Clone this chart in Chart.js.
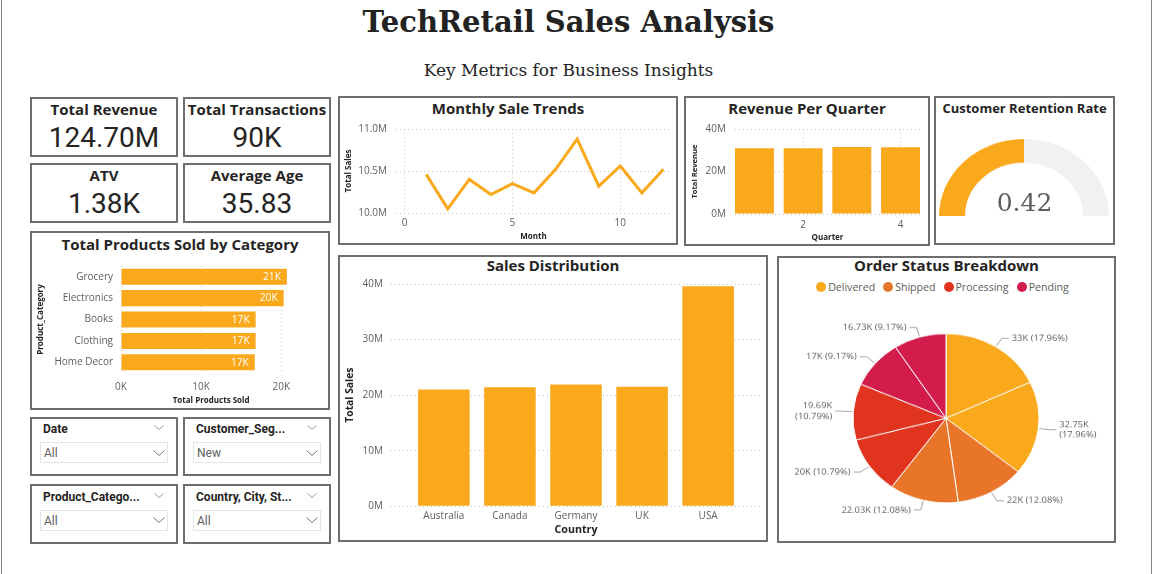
<!DOCTYPE html>
<html>
<head>
<meta charset="utf-8">
<script src="https://cdn.jsdelivr.net/npm/chart.js@4.4.1/dist/chart.umd.min.js"></script>
<style>
  html, body { margin: 0; padding: 0; background: #fff; }
  body { width: 1154px; height: 574px; position: relative; overflow: hidden; font-family: "Open Sans", sans-serif; }
  .vline { position: absolute; top: 0; width: 1px; height: 574px; background: #858585; }
  .panel { position: absolute; box-sizing: border-box; border: 2px solid #6e6e6e; background: #fff; }
  .txt { position: absolute; white-space: nowrap; }
  .cbox { position: absolute; }
  .cbox canvas { display: block; }
  #title { left: 0; width: 1137px; top: 8px; text-align: center; font: bold 29px/29px "DejaVu Serif", serif; color: #222; }
  #subtitle { left: 0; width: 1137px; top: 62px; text-align: center; font: 17px/17px "DejaVu Serif", serif; color: #222; }
  .ptitle { text-align: center; font-weight: 700; font-size: 15px; line-height: 15px; color: #252423; }
  .kpiLabel { text-align: center; font-weight: 700; font-size: 15px; line-height: 15px; color: #252423; }
  .kpiValue { text-align: center; font-family: Roboto, sans-serif; font-size: 28px; line-height: 28px; color: #252423; }
  .slName { font-family: Roboto, sans-serif; font-weight: 700; font-size: 12px; line-height: 12px; color: #252423; }
  .slVal { font-family: Roboto, sans-serif; font-size: 12px; line-height: 12px; color: #605E5C; }
  .slBox { position: absolute; box-sizing: border-box; border: 1px solid #E4E4E4; }
  .legend { position: absolute; display: flex; align-items: center; font-size: 10.6px; line-height: 12px; color: #605E5C; }
  .legend .it { display: flex; align-items: center; margin-right: 8px; }
  .legend .dot { width: 10px; height: 10px; border-radius: 50%; margin-right: 2px; }
  #gaugeVal { font: 25px/25px "DejaVu Serif", serif; color: #605E5C; text-align: center; }
</style>
</head>
<body>
<div class="vline" style="left:1px"></div>
<div class="vline" style="left:1151px"></div>

<div id="title" class="txt">TechRetail Sales Analysis</div>
<div id="subtitle" class="txt">Key Metrics for Business Insights</div>

<!-- chart panels -->
<div class="panel" style="left:338px;top:96px;width:340px;height:149px"></div>
<div class="panel" style="left:684px;top:96px;width:246px;height:150px"></div>
<div class="panel" style="left:934px;top:96px;width:181px;height:149px"></div>
<div class="panel" style="left:30px;top:231px;width:300px;height:179px"></div>
<div class="panel" style="left:338px;top:255px;width:430px;height:287px"></div>
<div class="panel" style="left:777px;top:256px;width:339px;height:287px"></div>

<div class="txt ptitle" style="left:338px;width:340px;top:101px">Monthly Sale Trends</div>
<div class="txt ptitle" style="left:684px;width:246px;top:101px">Revenue Per Quarter</div>
<div class="txt ptitle" style="left:934px;width:181px;top:101.5px;font-size:13px;line-height:13px">Customer Retention Rate</div>
<div class="txt ptitle" style="left:30px;width:300px;top:237px">Total Products Sold by Category</div>
<div class="txt ptitle" style="left:338px;width:430px;top:258px">Sales Distribution</div>
<div class="txt ptitle" style="left:777px;width:339px;top:258px">Order Status Breakdown</div>

<div class="cbox" style="left:340px;top:114px;width:335px;height:129px"><canvas id="cMonthly"></canvas></div>
<div class="cbox" style="left:686px;top:114px;width:241px;height:131px"><canvas id="cQuarter"></canvas></div>
<div class="cbox" style="left:939px;top:139.3px;width:170px;height:85px;transform:scaleY(0.91);transform-origin:0 0"><canvas id="cGauge"></canvas></div>
<div id="gaugeVal" class="txt" style="left:934px;width:181px;top:190px">0.42</div>
<div class="cbox" style="left:32px;top:252px;width:296px;height:156px"><canvas id="cProducts"></canvas></div>
<div class="cbox" style="left:340px;top:270px;width:425px;height:270px"><canvas id="cCountry"></canvas></div>
<div class="cbox" style="left:779.3px;top:308.8px;width:334px;height:240px;transform:scaleY(0.91);transform-origin:0 0"><canvas id="cOrders"></canvas></div>
<div id="orderLegend" class="legend" style="left:777px;width:339px;top:281px;justify-content:center"></div>

<div id="cards"></div>

<script>
// ---------------- data ----------------
const kpiLabels = ['Total Revenue', 'Total Transactions', 'ATV', 'Average Age'];
const kpiValues = ['124.70M', '90K', '1.38K', '35.83'];

const months = [1, 2, 3, 4, 5, 6, 7, 8, 9, 10, 11, 12];
const monthlySales = [10.46, 10.05, 10.40, 10.22, 10.35, 10.24, 10.52, 10.88, 10.32, 10.56, 10.24, 10.52]; // M
const monthTicks = [0, 5, 10];

const quarters = [1, 2, 3, 4];
const quarterRevenue = [30.9, 30.9, 31.5, 31.4]; // M
const quarterTicks = [2, 4];

const retentionRate = 0.42;
const retentionMax = 0.84;

const productCategories = ['Grocery', 'Electronics', 'Books', 'Clothing', 'Home Decor'];
const productsSold = [20.7, 20.3, 16.8, 16.8, 16.7]; // K

const countries = ['Australia', 'Canada', 'Germany', 'UK', 'USA'];
const countrySales = [21.0, 21.4, 21.9, 21.5, 39.6]; // M

const orderStatuses = ['Delivered', 'Shipped', 'Processing', 'Pending'];
const orderSliceStatus = ['Delivered', 'Delivered', 'Shipped', 'Shipped', 'Processing', 'Processing', 'Pending', 'Pending'];
const orderSliceValues = [33, 32.75, 22, 22.03, 20, 19.69, 17, 16.73]; // K
const orderSlicePct = ['17.96%', '17.96%', '12.08%', '12.08%', '10.79%', '10.79%', '9.17%', '9.17%'];

const slicerNames = ['Date', 'Customer_Seg...', 'Product_Catego...', 'Country, City, St...'];
const slicerValues = ['All', 'New', 'All', 'All'];

// ---------------- styles ----------------
const ORANGE = '#FAA91D';
const statusColors = { Delivered: '#FAA91D', Shipped: '#E8752A', Processing: '#E0341F', Pending: '#D11C4C' };
const GRID = '#C8C6C4';
const TICK = '#605E5C';
const AXT = '#252423';
const FAM = '"Open Sans", sans-serif';
const tickFont = { family: FAM, size: 10 };
const axTitleFont = s => ({ family: FAM, size: s, weight: 'bold' });

Chart.defaults.animation = false;
Chart.defaults.responsive = true;
Chart.defaults.maintainAspectRatio = false;
Chart.defaults.plugins.legend.display = false;
Chart.defaults.plugins.tooltip.enabled = false;
Chart.defaults.font.family = FAM;

const dotted = { display: false, dash: [1, 3] };
const gridOn = { color: GRID, lineWidth: 1, drawTicks: false };
const gridOff = { display: false, drawTicks: false, offset: false };

// ---------------- KPI cards & slicers (HTML) ----------------
const cards = document.getElementById('cards');
const kpiPos = [[30, 97], [183, 97], [30, 163], [183, 163]];
kpiLabels.forEach((lab, i) => {
  const [l, t] = kpiPos[i];
  cards.insertAdjacentHTML('beforeend',
    `<div class="panel" style="left:${l}px;top:${t}px;width:148px;height:60px"></div>
     <div class="txt kpiLabel" style="left:${l}px;width:148px;top:${t + 4.5}px">${lab}</div>
     <div class="txt kpiValue" style="left:${l}px;width:148px;top:${t + 26.5}px">${kpiValues[i]}</div>`);
});
const chev = (c, w, h) => `<svg width="${w}" height="${h}" viewBox="0 0 ${w} ${h}" style="position:absolute;display:block"><polyline points="0.5,0.5 ${w / 2},${h - 0.5} ${w - 0.5},0.5" fill="none" stroke="${c}" stroke-width="1"/></svg>`;
const slPos = [[30, 416.5], [183, 416.5], [30, 484], [183, 484]];
slicerNames.forEach((nm, i) => {
  const [l, t] = slPos[i];
  cards.insertAdjacentHTML('beforeend',
    `<div class="panel" style="left:${l}px;top:${t}px;width:148px;height:59.5px"></div>
     <div class="txt slName" style="left:${l + 13}px;top:${t + 6.5}px">${nm}</div>
     <div class="txt" style="left:${l + 124}px;top:${t + 8.5}px">${chev('#9a9a9a', 10, 5)}</div>
     <div class="slBox" style="left:${l + 9.5}px;top:${t + 25.5}px;width:128px;height:21px"></div>
     <div class="txt slVal" style="left:${l + 14}px;top:${t + 30.5}px">${slicerValues[i]}</div>
     <div class="txt" style="left:${l + 123}px;top:${t + 33}px">${chev('#777', 12, 6)}</div>`);
});

// legend for order status
const lg = document.getElementById('orderLegend');
orderStatuses.forEach(s => {
  lg.insertAdjacentHTML('beforeend', `<div class="it"><div class="dot" style="background:${statusColors[s]}"></div>${s}</div>`);
});

// ---------------- Monthly Sale Trends ----------------
new Chart(document.getElementById('cMonthly'), {
  type: 'line',
  data: { datasets: [{ data: months.map((m, i) => ({ x: m, y: monthlySales[i] })), borderColor: ORANGE, borderWidth: 3, pointRadius: 0, tension: 0, fill: false }] },
  options: {
    layout: { padding: { top: 10, right: 4, left: 0, bottom: 0 } },
    scales: {
      x: {
        type: 'linear', min: -0.4, max: 12.35,
        afterBuildTicks: s => { s.ticks = monthTicks.map(v => ({ value: v })); },
        afterFit: s => { s.height = 30; },
        ticks: { font: tickFont, color: TICK, padding: 4, maxRotation: 0 },
        grid: gridOn, border: dotted,
        title: { display: true, text: 'Month', font: axTitleFont(8), color: AXT, padding: { top: 0, bottom: 1 } }
      },
      y: {
        min: 10, max: 11,
        afterFit: s => { s.width = 56; },
        ticks: { stepSize: 0.5, font: tickFont, color: TICK, padding: 9, callback: v => v.toFixed(1) + 'M' },
        grid: gridOn, border: dotted,
        title: { display: true, text: 'Total Sales', font: axTitleFont(8), color: AXT, padding: { top: 4, bottom: 0 } }
      }
    }
  }
});

// ---------------- Revenue Per Quarter ----------------
new Chart(document.getElementById('cQuarter'), {
  type: 'bar',
  data: { datasets: [{ data: quarters.map((q, i) => ({ x: q, y: quarterRevenue[i] })), backgroundColor: ORANGE, barPercentage: 0.8, categoryPercentage: 1 }] },
  options: {
    layout: { padding: { top: 10, right: 7, left: 0, bottom: 0 } },
    scales: {
      x: {
        type: 'linear', offset: false, min: 0.6, max: 4.4,
        afterBuildTicks: s => { s.ticks = quarterTicks.map(v => ({ value: v })); },
        afterFit: s => { s.height = 31; },
        ticks: { font: tickFont, color: TICK, padding: 5, maxRotation: 0 },
        grid: Object.assign({ offset: false }, gridOn), border: dotted,
        title: { display: true, text: 'Quarter', font: axTitleFont(8), color: AXT, padding: { top: 0, bottom: 2.5 } }
      },
      y: {
        min: 0, max: 40,
        afterFit: s => { s.width = 49; },
        ticks: { stepSize: 20, font: tickFont, color: TICK, padding: 9, callback: v => v + 'M' },
        grid: gridOn, border: dotted,
        title: { display: true, text: 'Total Revenue', font: axTitleFont(7.6), color: AXT, padding: { top: 4, bottom: 0 } }
      }
    }
  }
});

// ---------------- Customer Retention gauge ----------------
new Chart(document.getElementById('cGauge'), {
  type: 'doughnut',
  data: { datasets: [{ data: [retentionRate, retentionMax - retentionRate], backgroundColor: [ORANGE, '#F1F1F1'], borderWidth: 0 }] },
  options: { circumference: 180, rotation: -90, cutout: '69.4%', layout: { padding: 0 } }
});

// ---------------- Total Products Sold by Category ----------------
const barValueLabels = {
  id: 'barValueLabels',
  afterDatasetsDraw(chart) {
    const ctx = chart.ctx;
    const meta = chart.getDatasetMeta(0);
    ctx.save();
    ctx.font = '10.2px ' + FAM;
    ctx.fillStyle = '#ffffff';
    ctx.textAlign = 'right';
    ctx.textBaseline = 'middle';
    meta.data.forEach((bar, i) => {
      ctx.fillText(Math.round(productsSold[i]) + 'K', bar.x - 6, bar.y + 0.5);
    });
    ctx.restore();
  }
};
new Chart(document.getElementById('cProducts'), {
  type: 'bar',
  data: { labels: productCategories, datasets: [{ data: productsSold, backgroundColor: ORANGE, barPercentage: 0.75, categoryPercentage: 1 }] },
  options: {
    indexAxis: 'y',
    layout: { padding: { top: 12.5, right: 26.7, left: 0, bottom: 0 } },
    scales: {
      x: {
        min: 0, max: 22.5,
        afterFit: s => { s.height = 35; },
        ticks: { stepSize: 10, includeBounds: false, font: tickFont, color: TICK, padding: 8, callback: v => v + 'K' },
        grid: gridOn, border: dotted,
        title: { display: true, text: 'Total Products Sold', font: axTitleFont(8), color: AXT, padding: { top: 0, bottom: 2 } }
      },
      y: {
        afterFit: s => { s.width = 89; },
        ticks: { font: tickFont, color: TICK, padding: 8 },
        grid: { display: false, drawTicks: false }, border: { display: false },
        title: { display: true, text: 'Product_Category', font: axTitleFont(8), color: AXT, padding: { top: 4, bottom: 0 } }
      }
    }
  },
  plugins: [barValueLabels]
});

// ---------------- Sales Distribution ----------------
new Chart(document.getElementById('cCountry'), {
  type: 'bar',
  data: { datasets: [{ data: countries.map((c, i) => ({ x: i, y: countrySales[i] })), backgroundColor: ORANGE, barPercentage: 0.78, categoryPercentage: 1 }] },
  options: {
    layout: { padding: { top: 12, right: 4, left: 0, bottom: 0 } },
    scales: {
      x: {
        type: 'linear', offset: false, min: -0.8, max: 4.8,
        afterBuildTicks: s => { s.ticks = countries.map((c, i) => ({ value: i })); },
        afterFit: s => { s.height = 33.7; },
        ticks: { font: tickFont, color: TICK, padding: 4, maxRotation: 0, autoSkip: false, callback: v => countries[v] },
        grid: gridOff, border: { display: false },
        title: { display: true, text: 'Country', font: axTitleFont(10.7), color: AXT, padding: { top: 0, bottom: 3.5 } }
      },
      y: {
        min: 0, max: 40,
        afterFit: s => { s.width = 51; },
        ticks: { stepSize: 10, font: tickFont, color: TICK, padding: 8, callback: v => v + 'M' },
        grid: gridOn, border: dotted,
        title: { display: true, text: 'Total Sales', font: axTitleFont(10.3), color: AXT, padding: { top: 4, bottom: 0 } }
      }
    }
  }
});

// ---------------- Order Status Breakdown ----------------
const fmtK = v => (Number.isInteger(v) ? String(v) : v.toFixed(2)) + 'K';
const pieLabels = {
  id: 'pieLabels',
  afterDatasetsDraw(chart) {
    const ctx = chart.ctx;
    const meta = chart.getDatasetMeta(0);
    ctx.save();
    ctx.font = '9.4px ' + FAM;
    ctx.fillStyle = '#605E5C';
    ctx.strokeStyle = '#A19F9D';
    ctx.lineWidth = 1;
    ctx.textBaseline = 'middle';
    meta.data.forEach((arc, i) => {
      const p = arc.getProps(['x', 'y', 'startAngle', 'endAngle', 'outerRadius'], true);
      const mid = (p.startAngle + p.endAngle) / 2;
      const c = Math.cos(mid), s = Math.sin(mid);
      const right = c >= 0;
      const x0 = p.x + c * (p.outerRadius + 1), y0 = p.y + s * (p.outerRadius + 1);
      const x1 = p.x + c * (p.outerRadius + 11), y1 = p.y + s * (p.outerRadius + 11);
      const x2 = x1 + (right ? 7 : -7);
      ctx.beginPath(); ctx.moveTo(x0, y0); ctx.lineTo(x1, y1); ctx.lineTo(x2, y1); ctx.stroke();
      const a = fmtK(orderSliceValues[i]), b = '(' + orderSlicePct[i] + ')';
      const full = a + ' ' + b;
      const tx = x2 + (right ? 3 : -3);
      const w = ctx.measureText(full).width;
      const lines = (right ? tx + w > chart.width - 2 : tx - w < 2) ? [a, b] : [full];
      ctx.textAlign = right ? 'left' : 'right';
      lines.forEach((ln, j) => ctx.fillText(ln, tx, y1 + (j - (lines.length - 1) / 2) * 11.5));
    });
    ctx.restore();
  }
};
new Chart(document.getElementById('cOrders'), {
  type: 'pie',
  data: { labels: orderSliceStatus, datasets: [{ data: orderSliceValues, backgroundColor: orderSliceStatus.map(s => statusColors[s]), borderColor: '#ffffff', borderWidth: 1 }] },
  options: { radius: 93, layout: { padding: 0 } },
  plugins: [pieLabels]
});
</script>
</body>
</html>
